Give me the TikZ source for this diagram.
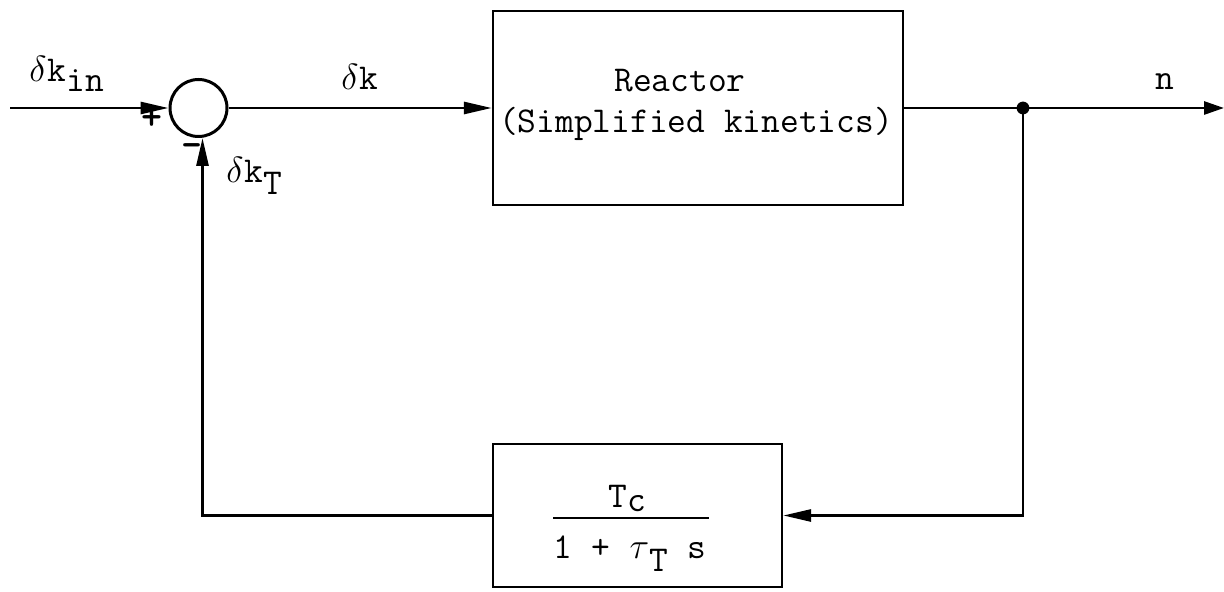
\RequirePackage{fix-cm}
\documentclass[tikz,border=0pt]{standalone}
\usepackage{graphicx}
\usetikzlibrary{arrows.meta}
\newcommand{\tch}[1]{\makebox[0.525em][c]{#1}}
\tikzset{
  lbl/.style={font=\fontsize{18.2}{20}\selectfont\ttfamily, inner sep=0pt, anchor=base west},
  sgn/.style={font=\fontsize{20}{22}\selectfont\ttfamily\bfseries, inner sep=0pt},
  blockbox/.style={draw, line width=1.2pt, inner sep=0pt},
  sumc/.style={circle, draw, line width=1.5pt, minimum size=28.5pt, inner sep=0pt},
  conn/.style={line width=1.4pt},
  arr/.style={conn, -{Triangle[length=14pt,width=6pt]}},
}
\begin{document}
\begin{tikzpicture}[x=0.5pt,y=-0.5pt]
\useasboundingbox (0,0) rectangle (1224,592);
% blocks
\node[sumc] (sum) at (198.5,108) {};
\node[blockbox, minimum width=205pt, minimum height=97pt] (reactor) at (698,108) {};
\node[blockbox, minimum width=144.5pt, minimum height=71.5pt] (fb) at (637.5,515.5) {};
% points
\coordinate (in) at (10,108);
\coordinate (out) at (1224,108);
\coordinate (tap) at (1023,108);
% connectors
\draw[arr] (in) -- (sum.west);
\draw[arr] (sum.east) -- (reactor.west);
\draw[conn, -{Triangle[length=10pt,width=6.5pt]}] (reactor.east) -- (out);
\fill (tap) circle (3.2pt);
\draw[arr] (tap) |- (fb.east);
\draw[arr] (fb.west) -| ([xshift=2pt]sum.south);
% signs
\node[sgn] (plus) at (152,119) {+};
\node[sgn] (minus) at (192,151) {-};
% labels
\node[lbl] (lin) at (28,82) {\tch{$\delta$}\tch{k}\raisebox{-5pt}{in}};
\node[lbl] (ldk) at (340,90) {\tch{$\delta$}\tch{k}};
\node[lbl, anchor=base] (ln) at (1165,90) {n};
\node[lbl] (ldkt) at (225,183) {\tch{$\delta$}\tch{k}\raisebox{-6pt}{T}};
% reactor text
\node[lbl, anchor=base] (rt1) at (680,92) {Reactor};
\node[lbl, anchor=base] (rt2) at (696,133) {(Simplified kinetics)};
% feedback transfer function
\node[lbl] (num) at (608,507) {T\raisebox{-2pt}{c}};
\draw[line width=1.4pt] (553,518) -- (709,518);
\node[lbl] (den) at (553,558) {\tch{1}\tch{ }\tch{+}\tch{ }\tch{$\tau$}\raisebox{-6.5pt}{\tch{T}}\tch{ }\tch{s}};
\end{tikzpicture}
\end{document}
